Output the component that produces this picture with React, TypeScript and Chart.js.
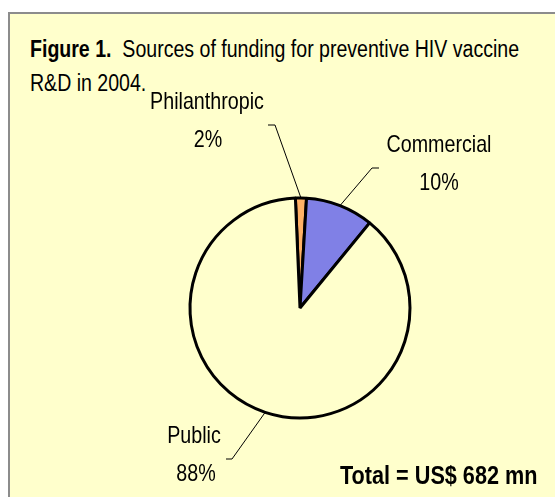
import React, { useEffect, useRef } from "react";
import { Chart, registerables } from "chart.js";

Chart.register(...registerables);

const categories = ["Philanthropic", "Commercial", "Public"];
const fundingUSDmn = [11, 68, 603];
const sliceColors = ["#FFB266", "#8080E6", "#FFFFCC"];

const FONT = "'Liberation Sans', Arial, sans-serif";
const NARROW = 0.82;

// label placement relative to pie centre (style only)
const labelLayout = [
  { name: [-93, -206], pct: [-92, -168], elbow: [-25, -183], tick: -7 },
  { name: [139, -163], pct: [139, -125], elbow: [72, -140], tick: 7 },
  { name: [-106, 128], pct: [-104, 166], elbow: [-68, 151], tick: -6 },
];

function narrowText(ctx: CanvasRenderingContext2D, text: string, cx: number, cy: number) {
  ctx.save();
  ctx.translate(cx, cy);
  ctx.scale(NARROW, 1);
  ctx.fillText(text, 0, 0);
  ctx.restore();
}

const labelPlugin = {
  id: "pieLabels",
  afterDraw(chart: any) {
    const ctx = chart.ctx;
    const meta = chart.getDatasetMeta(0);
    const data = chart.data.datasets[0].data as number[];
    const total = data.reduce((a, b) => a + b, 0);
    ctx.save();
    meta.data.forEach((arc: any, i: number) => {
      const { x, y, startAngle, endAngle, outerRadius } = arc.getProps(
        ["x", "y", "startAngle", "endAngle", "outerRadius"],
        true
      );
      const mid = (startAngle + endAngle) / 2;
      const ax = x + Math.cos(mid) * outerRadius;
      const ay = y + Math.sin(mid) * outerRadius;
      const L = labelLayout[i];
      ctx.strokeStyle = "#000";
      ctx.lineWidth = 1;
      ctx.beginPath();
      ctx.moveTo(x + L.elbow[0] + L.tick, y + L.elbow[1]);
      ctx.lineTo(x + L.elbow[0], y + L.elbow[1]);
      ctx.lineTo(ax, ay);
      ctx.stroke();
      ctx.fillStyle = "#000";
      ctx.font = `24px ${FONT}`;
      ctx.textAlign = "center";
      ctx.textBaseline = "middle";
      narrowText(ctx, chart.data.labels[i], x + L.name[0], y + L.name[1]);
      const pct = Math.round((data[i] / total) * 100) + "%";
      narrowText(ctx, pct, x + L.pct[0], y + L.pct[1]);
    });
    ctx.restore();
  },
};

export default function App() {
  const ref = useRef<HTMLCanvasElement>(null);
  useEffect(() => {
    const chart = new Chart(ref.current!, {
      type: "pie",
      data: {
        labels: categories,
        datasets: [
          {
            data: fundingUSDmn,
            backgroundColor: sliceColors,
            borderColor: "#000",
            borderWidth: 3,
          },
        ],
      },
      options: {
        responsive: false,
        animation: false,
        rotation: -2.4,
        radius: 110,
        layout: { padding: { left: 45, right: 0, top: 119, bottom: 0 } },
        plugins: {
          legend: { display: false },
          tooltip: { enabled: false },
          title: { display: false },
        },
      },
      plugins: [labelPlugin],
    });
    return () => chart.destroy();
  }, []);

  return (
    <div>
      <div
        style={{
          position: "absolute",
          left: 8,
          top: 12,
          width: 545,
          height: 483,
          background: "#FFFFCC",
          borderTop: "2px solid #8C8C8C",
          borderLeft: "2px solid #8C8C8C",
        }}
      />
      <div
        style={{
          position: "absolute",
          left: 30,
          top: 32,
          font: `23.85px ${FONT}`,
          lineHeight: "34px",
          color: "#000",
          whiteSpace: "pre",
          transform: `scaleX(${NARROW})`,
          transformOrigin: "0 0",
        }}
      >
        <b>Figure 1.</b>
        {"  Sources of funding for preventive HIV vaccine"}
        <br />
        {"R&D in 2004."}
      </div>
      <canvas
        ref={ref}
        width={555}
        height={497}
        style={{ position: "absolute", left: 0, top: 0, width: 555, height: 497 }}
      />
      <div
        style={{
          position: "absolute",
          left: 340,
          top: 460,
          font: `bold 26.4px ${FONT}`,
          lineHeight: "30px",
          color: "#000",
          whiteSpace: "pre",
          transform: `scaleX(${NARROW})`,
          transformOrigin: "0 0",
        }}
      >
        Total = US$ 682 mn
      </div>
    </div>
  );
}
